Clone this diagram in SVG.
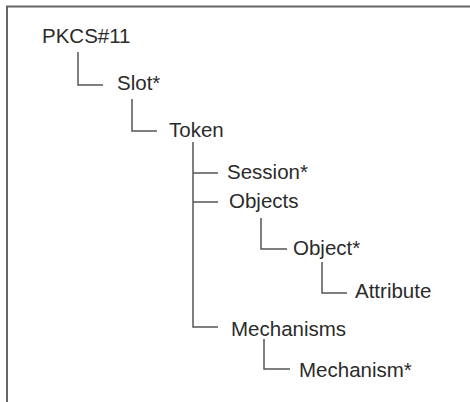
<svg xmlns="http://www.w3.org/2000/svg" width="470" height="402" viewBox="0 0 470 402">
<style>
.t{font-family:"Liberation Sans",Arial,sans-serif;font-size:20.5px;fill:#2b2b2b}
.c{fill:none;stroke:#555;stroke-width:1.5}
.b{fill:none;stroke:#666;stroke-width:2}
</style>
<rect width="470" height="402" fill="#fff"/>
<path class="b" d="M7,404 V6.5 H472"/>
<g id="connectors">
<path class="c" d="M78,52 V85 H103"/>
<path class="c" d="M132,99 V131 H157"/>
<path class="c" d="M193,142 V327 H218 M193,173 H218 M193,202 H218"/>
<path class="c" d="M261,218 V249 H287"/>
<path class="c" d="M322,262 V293 H347"/>
<path class="c" d="M264,339 V369 H290"/>
</g>
<g id="pkcs11"><text class="t" x="42" y="43">PKCS#11</text></g>
<g id="slot"><text class="t" x="117" y="90">Slot*</text></g>
<g id="token"><text class="t" x="169" y="137">Token</text></g>
<g id="session"><text class="t" x="227" y="179">Session*</text></g>
<g id="objects"><text class="t" x="229" y="208">Objects</text></g>
<g id="object"><text class="t" x="293" y="255">Object*</text></g>
<g id="attribute"><text class="t" x="355" y="298">Attribute</text></g>
<g id="mechanisms"><text class="t" x="231" y="336">Mechanisms</text></g>
<g id="mechanism"><text class="t" x="299" y="377">Mechanism*</text></g>
</svg>
